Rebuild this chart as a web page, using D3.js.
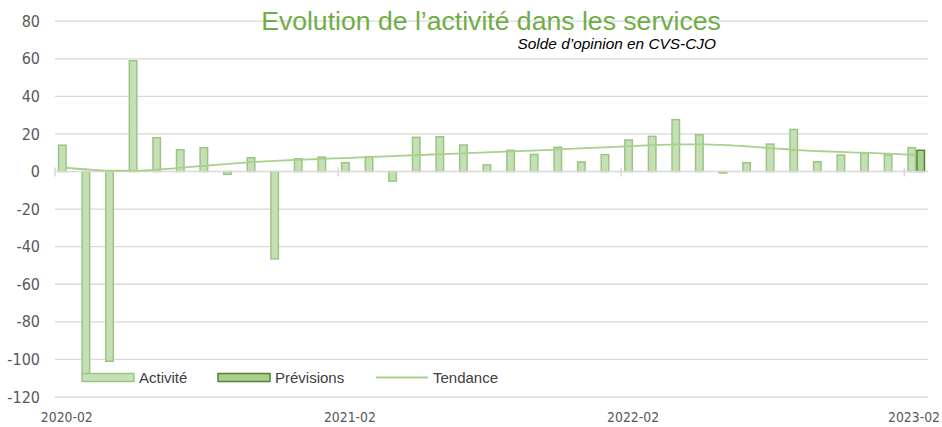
<!DOCTYPE html>
<html>
<head>
<meta charset="utf-8">
<script src="https://cdn.jsdelivr.net/npm/d3@7"></script>
<style>
  body { margin: 0; background: #fff; }
  svg { display: block; }
  .ax text { font-family: "Liberation Sans Narrow", "DejaVu Sans Condensed", "Liberation Sans", sans-serif; fill: #595959; }
</style>
</head>
<body>
<div id="chart"></div>
<script>
// categories
const months = [
  '2020-02','2020-03','2020-04','2020-05','2020-06','2020-07','2020-08','2020-09','2020-10','2020-11','2020-12','2021-01',
  '2021-02','2021-03','2021-04','2021-05','2021-06','2021-07','2021-08','2021-09','2021-10','2021-11','2021-12','2022-01',
  '2022-02','2022-03','2022-04','2022-05','2022-06','2022-07','2022-08','2022-09','2022-10','2022-11','2022-12','2023-01',
  '2023-02'
];
// solde d'opinion
const activite = [
  14, -108, -101, 59, 18, 11.6, 12.7, -1.5, 7.3, -46.5, 6.8, 7.7,
  4.7, 7.9, -5.1, 18.2, 18.5, 14.1, 3.5, 11.3, 9.1, 12.9, 5.1, 9.0,
  16.8, 18.7, 27.6, 19.6, -0.8, 4.7, 14.6, 22.4, 5.2, 8.8, 10.0, 8.8,
  12.7
];
const previsions = [
  null, null, null, null, null, null, null, null, null, null, null, null,
  null, null, null, null, null, null, null, null, null, null, null, null,
  null, null, null, null, null, null, null, null, null, null, null, null,
  11.3
];
const tendance = [
  2.0, 1.0, 0.4, 0.5, 1.2, 2.2, 3.2, 4.2, 5.1, 5.8, 6.3, 6.8,
  7.3, 7.8, 8.3, 8.8, 9.3, 9.8, 10.3, 10.8, 11.3, 11.9, 12.5, 13.0,
  13.6, 14.2, 14.5, 14.5, 14.0, 13.2, 12.3, 11.4, 10.8, 10.3, 9.9, 9.4,
  8.8
];
const yTicks = [80, 60, 40, 20, 0, -20, -40, -60, -80, -100, -120];
const xLabels = ['2020-02', '2021-02', '2022-02', '2023-02'];
const seriesNames = ['Activité', 'Prévisions'];

const width = 942, height = 427;
const svg = d3.select('#chart').append('svg')
  .attr('width', width)
  .attr('height', height);

const x = d3.scaleBand().domain(months).range([55, 928]).padding(0);
const xSub = d3.scaleBand().domain(seriesNames).range([0, x.bandwidth()]).paddingInner(0).paddingOuter(0.31);
const y = d3.scaleLinear().domain([-120, 80]).range([397, 21.2]);

// grid
svg.append('g')
  .selectAll('line')
  .data(yTicks.filter(d => d !== 0))
  .join('line')
  .attr('x1', 55).attr('x2', 928)
  .attr('y1', d => y(d)).attr('y2', d => y(d))
  .attr('stroke', '#d9d9d9')
  .attr('stroke-width', 1.3);

// y labels
const yAx = svg.append('g').attr('class', 'ax');
yAx.selectAll('text')
  .data(yTicks)
  .join('text')
  .attr('x', 40)
  .attr('y', d => y(d))
  .attr('dy', '0.35em')
  .attr('text-anchor', 'end')
  .attr('font-size', 16)
  .text(d => d);

// bars
const col = {
  'Activité': { fill: '#c5e0b4', stroke: '#9cc584' },
  'Prévisions': { fill: '#a9d18e', stroke: '#548235' }
};
const barData = [];
months.forEach((m, i) => {
  if (activite[i] != null) barData.push({ m, s: 'Activité', v: activite[i] });
  if (previsions[i] != null) barData.push({ m, s: 'Prévisions', v: previsions[i] });
});
svg.append('g')
  .selectAll('rect')
  .data(barData)
  .join('rect')
  .attr('x', d => x(d.m) + xSub(d.s) + 0.75)
  .attr('width', xSub.bandwidth() - 1.5)
  .attr('y', d => Math.min(y(d.v), y(0)))
  .attr('height', d => Math.abs(y(d.v) - y(0)))
  .attr('fill', d => col[d.s].fill)
  .attr('stroke', d => col[d.s].stroke)
  .attr('stroke-width', 1.5);

// zero axis + ticks
svg.append('line')
  .attr('x1', 55).attr('x2', 928)
  .attr('y1', y(0)).attr('y2', y(0))
  .attr('stroke', '#d9d9d9').attr('stroke-width', 1.5);
svg.append('g')
  .selectAll('line')
  .data(xLabels)
  .join('line')
  .attr('x1', d => x(d)).attr('x2', d => x(d))
  .attr('y1', y(0) - 4).attr('y2', y(0) + 5)
  .attr('stroke', '#d9d9d9').attr('stroke-width', 1.5);

// trend
const line = d3.line()
  .x((d, i) => x(months[i]) + x.bandwidth() / 2)
  .y(d => y(d))
  .curve(d3.curveMonotoneX);
svg.append('path')
  .datum(tendance)
  .attr('d', line)
  .attr('fill', 'none')
  .attr('stroke', '#a9d18e')
  .attr('stroke-width', 1.8);

// x labels (condensed, like the original)
const labelW = 52;
svg.append('g').attr('class', 'ax')
  .selectAll('text')
  .data(xLabels)
  .join('text')
  .attr('x', d => Math.min(x(d) + x.bandwidth() / 2, width - 2 - labelW / 2))
  .attr('y', 422)
  .attr('text-anchor', 'middle')
  .attr('font-size', 13.5)
  .attr('textLength', labelW)
  .attr('lengthAdjust', 'spacingAndGlyphs')
  .text(d => d);

// titles
svg.append('text')
  .attr('x', 491).attr('y', 30)
  .attr('text-anchor', 'middle')
  .attr('font-family', 'Liberation Sans, Arial, sans-serif')
  .attr('font-size', 26.6)
  .attr('fill', '#70ad47')
  .text('Evolution de l’activité dans les services');
svg.append('text')
  .attr('x', 716).attr('y', 49)
  .attr('text-anchor', 'end')
  .attr('font-family', 'Liberation Sans, Arial, sans-serif')
  .attr('font-style', 'italic')
  .attr('font-size', 15.4)
  .attr('fill', '#000')
  .text('Solde d’opinion en CVS-CJO');

// legend
const legend = svg.append('g')
  .attr('font-family', 'Liberation Sans, Arial, sans-serif')
  .attr('font-size', 15)
  .attr('fill', '#404040');
const legItems = [
  { name: 'Activité', x: 82, type: 'bar' },
  { name: 'Prévisions', x: 218, type: 'bar' },
  { name: 'Tendance', x: 376, type: 'line' }
];
legItems.forEach(it => {
  if (it.type === 'bar') {
    legend.append('rect')
      .attr('x', it.x).attr('y', 373.5)
      .attr('width', 52).attr('height', 8)
      .attr('fill', col[it.name].fill)
      .attr('stroke', col[it.name].stroke)
      .attr('stroke-width', 1.5);
  } else {
    legend.append('line')
      .attr('x1', it.x).attr('x2', it.x + 52)
      .attr('y1', 377.5).attr('y2', 377.5)
      .attr('stroke', '#a9d18e').attr('stroke-width', 1.8);
  }
  legend.append('text')
    .attr('x', it.x + 57).attr('y', 383)
    .text(it.name);
});
</script>
</body>
</html>
